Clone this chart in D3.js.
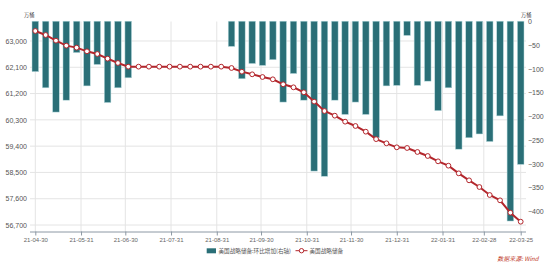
<!DOCTYPE html>
<html>
<head>
<meta charset="utf-8">
<script src="https://cdnjs.cloudflare.com/ajax/libs/d3/7.8.5/d3.min.js"></script>
<style>
  body { margin: 0; background: #fff; }
  text { font-family: "Liberation Sans", Arial, "Noto Sans CJK SC", sans-serif; }
  .cjk { font-family: "Noto Sans CJK SC", sans-serif; }
</style>
</head>
<body>
<div id="chart"></div>
<script>
// weekly dates (Friday)
var dates = ["2021-04-30","2021-05-07","2021-05-14","2021-05-21","2021-05-28","2021-06-04",
  "2021-06-11","2021-06-18","2021-06-25","2021-07-02","2021-07-09","2021-07-16","2021-07-23",
  "2021-07-30","2021-08-06","2021-08-13","2021-08-20","2021-08-27","2021-09-03","2021-09-10",
  "2021-09-17","2021-09-24","2021-10-01","2021-10-08","2021-10-15","2021-10-22","2021-10-29",
  "2021-11-05","2021-11-12","2021-11-19","2021-11-26","2021-12-03","2021-12-10","2021-12-17",
  "2021-12-24","2021-12-31","2022-01-07","2022-01-14","2022-01-21","2022-01-28","2022-02-04",
  "2022-02-11","2022-02-18","2022-02-25","2022-03-04","2022-03-11","2022-03-18","2022-03-25"];

// 美国战略储备 (万桶)
var reserve = [63342,63205,63011,62840,62772,62646,62555,62395,62247,62121,
  62121,62121,62121,62121,62121,62121,62121,62121,62121,62075,
  61950,61859,61767,61688,61517,61414,61243,60925,60603,60443,
  60238,60090,59895,59640,59497,59360,59337,59200,59063,58880,
  58731,58469,58230,58001,57727,57545,57122,56814];

// 美国战略储备:环比增加 (万桶, right axis)
var change = [-106,-140,-191,-166,-66,-136,-91,-171,-140,-119,
  0,0,0,0,0,0,0,0,0,-53,
  -121,-89,-93,-81,-170,-110,-166,-315,-326,-166,
  -196,-170,-196,-245,-136,-135,-30,-135,-126,-188,
  -140,-269,-245,-237,-253,-199,-420,-301];

var leftTicks = [56700,57600,58500,59400,60300,61200,62100,63000];
var rightTicks = [0,-50,-100,-150,-200,-250,-300,-350,-400];
var xTicks = ["2021-04-30","2021-05-31","2021-06-30","2021-07-31","2021-08-31","2021-09-30",
  "2021-10-31","2021-11-30","2021-12-31","2022-01-31","2022-02-28","2022-03-25"];

var W = 550, H = 266;
var parse = d3.timeParse("%Y-%m-%d");
var fmtX = d3.timeFormat("%y-%m-%d");

var data = dates.map(function(d, i) {
  return { date: parse(d), reserve: reserve[i], change: change[i] };
});

var svg = d3.select("#chart").append("svg")
    .attr("width", W)
    .attr("height", H);

var plotL = 30, plotR = 526, plotT = 21.5, plotB = 231.5;

// scales
var x = d3.scaleTime()
    .domain([parse("2021-04-30"), parse("2022-03-25")])
    .range([35.3, 520.7]);
var yL = d3.scaleLinear()
    .domain([56478, 63660])
    .range([plotB, 21.7]);
var yR = d3.scaleLinear()
    .domain([-442, 0])
    .range([plotB, 21.2]);

// gridlines
var grid = svg.append("g");
grid.selectAll(".hg")
    .data(leftTicks)
  .enter().append("line")
    .attr("x1", plotL).attr("x2", plotR)
    .attr("y1", function(d) { return yL(d); })
    .attr("y2", function(d) { return yL(d); })
    .attr("stroke", "#e4e4e4").attr("stroke-width", 1);
grid.selectAll(".vg")
    .data(xTicks)
  .enter().append("line")
    .attr("x1", function(d) { return x(parse(d)); })
    .attr("x2", function(d) { return x(parse(d)); })
    .attr("y1", plotT).attr("y2", plotB)
    .attr("stroke", "#e4e4e4").attr("stroke-width", 1);

// bars
var bw = 6.6;
svg.append("g").selectAll("rect")
    .data(data.filter(function(d) { return d.change !== 0; }))
  .enter().append("rect")
    .attr("x", function(d) { return x(d.date) - bw / 2; })
    .attr("y", yR(0))
    .attr("width", bw)
    .attr("height", function(d) { return yR(d.change) - yR(0); })
    .attr("fill", "#2a6f77")
    .attr("stroke", "#b9dcdf")
    .attr("stroke-width", 0.5);

// line + markers
var line = d3.line()
    .x(function(d) { return x(d.date); })
    .y(function(d) { return yL(d.reserve); });
svg.append("path")
    .datum(data)
    .attr("d", line)
    .attr("fill", "none")
    .attr("stroke", "#b3262c")
    .attr("stroke-width", 2);
svg.append("g").selectAll("circle")
    .data(data)
  .enter().append("circle")
    .attr("cx", function(d) { return x(d.date); })
    .attr("cy", function(d) { return yL(d.reserve); })
    .attr("r", 2.4)
    .attr("fill", "#fff")
    .attr("stroke", "#b3262c")
    .attr("stroke-width", 1);

// x axis
var xAxis = d3.axisBottom(x)
    .tickValues(xTicks.map(parse))
    .tickFormat(fmtX)
    .tickSize(4)
    .tickSizeOuter(0);
var gx = svg.append("g")
    .attr("transform", "translate(0," + plotB + ")")
    .call(xAxis);
gx.select(".domain").attr("d", "M" + plotL + ",0.5H" + plotR).attr("stroke", "#8c98a4");
gx.selectAll(".tick line").attr("stroke", "#8c98a4");
gx.selectAll(".tick text")
    .attr("font-size", 6)
    .attr("fill", "#666")
    .attr("y", 6.5);

// left axis
var gl = svg.append("g")
    .attr("transform", "translate(" + 27 + ",0)")
    .call(d3.axisLeft(yL).tickValues(leftTicks).tickFormat(d3.format(",")).tickSize(0));
gl.select(".domain").remove();
gl.selectAll(".tick text").attr("font-size", 7).attr("fill", "#555").attr("x", 0);

// right axis
var gr = svg.append("g")
    .attr("transform", "translate(" + 528 + ",0)")
    .call(d3.axisRight(yR).tickValues(rightTicks).tickSize(0));
gr.select(".domain").remove();
gr.selectAll(".tick text").attr("font-size", 7).attr("fill", "#555").attr("x", 0);

// unit labels
svg.append("text").attr("class", "cjk")
    .attr("x", 24).attr("y", 16.5)
    .attr("font-size", 5.2).attr("fill", "#444")
    .text("万桶");
svg.append("text").attr("class", "cjk")
    .attr("x", 521).attr("y", 16.5)
    .attr("font-size", 5.2).attr("fill", "#444")
    .text("万桶");

// legend
var lg = svg.append("g");
lg.append("rect")
    .attr("x", 206.7).attr("y", 248.3)
    .attr("width", 9.3).attr("height", 5)
    .attr("fill", "#2a6f77");
lg.append("text").attr("class", "cjk")
    .attr("x", 218.5).attr("y", 252.8)
    .attr("font-size", 5.6).attr("fill", "#555")
    .text("美国战略储备:环比增加(右轴)");
lg.append("line")
    .attr("x1", 295.5).attr("x2", 307.5)
    .attr("y1", 250.7).attr("y2", 250.7)
    .attr("stroke", "#b3262c").attr("stroke-width", 1);
lg.append("circle")
    .attr("cx", 301.5).attr("cy", 250.7).attr("r", 2.2)
    .attr("fill", "#fff").attr("stroke", "#b3262c").attr("stroke-width", 1);
lg.append("text").attr("class", "cjk")
    .attr("x", 309.5).attr("y", 252.8)
    .attr("font-size", 5.6).attr("fill", "#555")
    .text("美国战略储备");

// source
svg.append("text").attr("class", "cjk")
    .attr("x", 538.5).attr("y", 260.5)
    .attr("text-anchor", "end")
    .attr("font-size", 6)
    .attr("font-style", "italic")
    .attr("fill", "#c0392b")
    .text("数据来源: Wind");
</script>
</body>
</html>
